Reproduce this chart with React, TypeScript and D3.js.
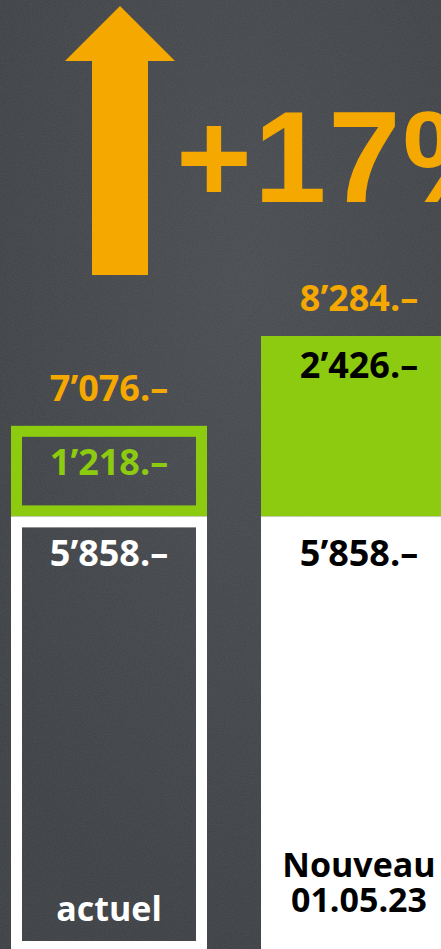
import React from 'react';
import * as d3 from 'd3';

// chart values
const categories = ['actuel', 'Nouveau'];
const categoryLines = [['actuel'], ['Nouveau', '01.05.23']];
const baseValues = [5858, 5858];
const extraValues = [1218, 2426];
const totalValues = [7076, 8284];
const increaseLabel = '+17%';

const W = 441;
const H = 949;
const ORANGE = '#f5a800';
const GREEN = '#8ccb0f';
const BG = '#404347';
const FONT = "'Open Sans', 'DejaVu Sans', sans-serif";

const fmt = (v: number) => {
  const s = String(v);
  return s.length > 3 ? s.slice(0, -3) + '\u2019' + s.slice(-3) + '.\u2013' : s + '.\u2013';
};

export default function App() {
  const x = d3.scaleBand<string>().domain(categories).range([11, 457]).paddingInner(0.216);
  const y = d3.scaleLinear().domain([0, d3.max(totalValues) as number]).range([952, 336]);
  const bw = x.bandwidth();
  const sw = 11;

  // arrow shape (decoration)
  const arrow = d3.line()([
    [92, 275], [92, 61], [65, 61], [120, 6], [175, 61], [148, 61], [148, 275],
  ]) + 'Z';

  return (
    <svg width={W} height={H} style={{ position: 'absolute', left: 0, top: 0 }}>
      <defs>
        <filter id="chalk" x="0" y="0" width="100%" height="100%">
          <feTurbulence type="fractalNoise" baseFrequency="0.9" numOctaves={2} seed={3} result="n" />
          <feColorMatrix type="matrix" values="0 0 0 0 1  0 0 0 0 1  0 0 0 0 1  0 0 0 0.09 0" />
        </filter>
        <radialGradient id="glow" cx="0.55" cy="0.3" r="0.7">
          <stop offset="0" stopColor="#474a4e" />
          <stop offset="1" stopColor="#3b3e42" />
        </radialGradient>
      </defs>
      <rect width={W} height={H} fill={BG} />
      <rect width={W} height={H} fill="url(#glow)" />
      <rect width={W} height={H} filter="url(#chalk)" />

      <path d={arrow} fill={ORANGE} />
      <text x={176} y={202} fill={ORANGE} fontFamily="'Liberation Sans', Arial, sans-serif"
        fontWeight={700} fontSize={130} letterSpacing={2}>{increaseLabel}</text>

      {categories.map((c, i) => {
        const x0 = x(c) as number;
        const cx = x0 + bw / 2;
        const yBase = y(baseValues[i]);
        const yTop = y(baseValues[i] + extraValues[i]);
        const outlined = i === 0;
        return (
          <g key={c}>
            {outlined ? (
              <>
                <rect x={x0 + sw / 2} y={yTop + sw / 2} width={bw - sw} height={yBase - yTop - sw}
                  fill="none" stroke={GREEN} strokeWidth={sw} />
                <rect x={x0 + sw / 2} y={yBase + sw / 2} width={bw - sw} height={y(0) - yBase - sw}
                  fill="none" stroke="#fff" strokeWidth={sw} />
              </>
            ) : (
              <>
                <rect x={x0} y={yTop} width={bw} height={yBase - yTop} fill={GREEN} />
                <rect x={x0} y={yBase} width={bw} height={y(0) - yBase} fill="#fff" />
              </>
            )}
            <g fontFamily={FONT} fontWeight={700} fontSize={36} textAnchor="middle">
              <text x={cx} y={y(totalValues[i]) - 25} fill={ORANGE}>{fmt(totalValues[i])}</text>
              <text x={cx} y={yTop + (outlined ? 49 : 42)} fill={outlined ? GREEN : '#000'}>
                {fmt(extraValues[i])}
              </text>
              <text x={cx} y={yBase + 50} fill={outlined ? '#fff' : '#000'}>{fmt(baseValues[i])}</text>
              {categoryLines[i].map((l, j, arr) => (
                <text key={l} x={cx} y={y(0) - (outlined ? 31 : 40) - (arr.length - 1 - j) * 35}
                  fill={outlined ? '#fff' : '#000'} fontSize={34}>{l}</text>
              ))}
            </g>
          </g>
        );
      })}
    </svg>
  );
}
